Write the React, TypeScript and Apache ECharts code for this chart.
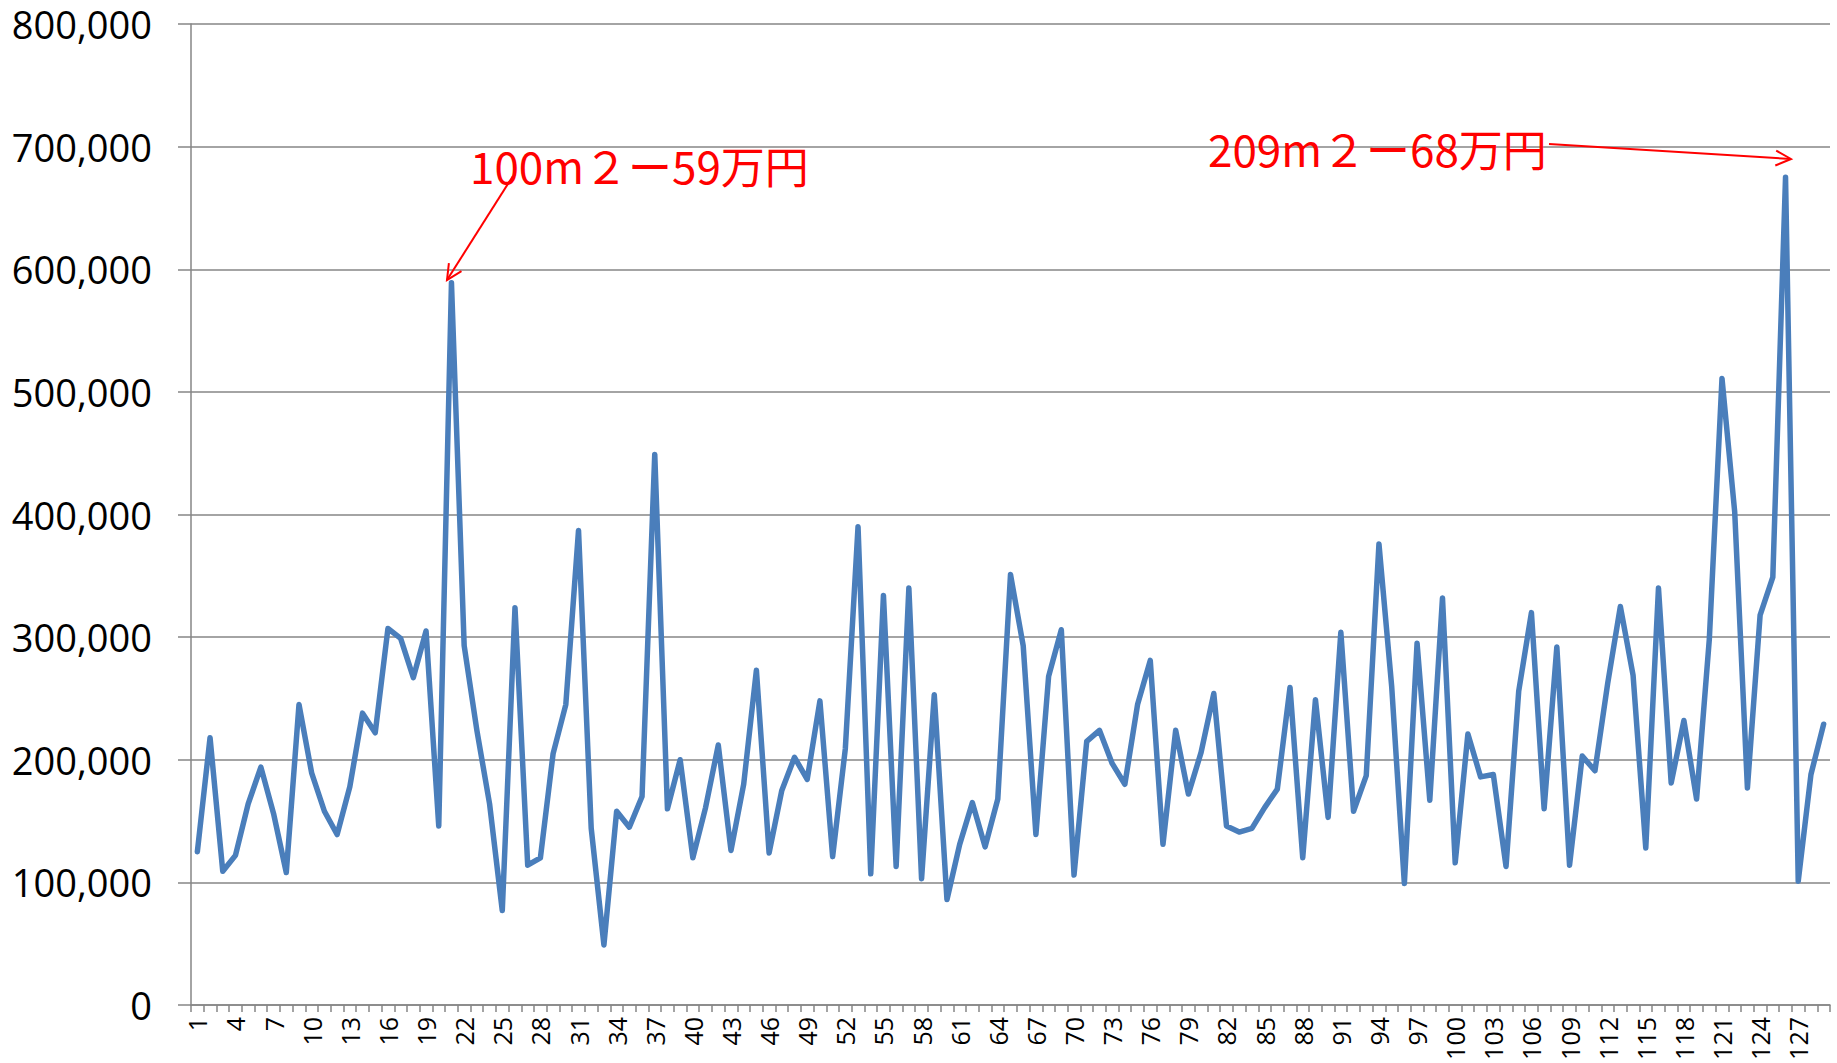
import React, { useEffect, useRef } from "react";
import * as echarts from "echarts";

const categories: string[] = Array.from({ length: 129 }, (_, i) => String(i + 1));

const prices: number[] = [
  125000, 218000, 109000, 122000, 164000, 194000, 156000, 108000, 245000, 189000,
  158000, 139000, 178000, 238000, 222000, 307000, 299000, 267000, 305000, 146000,
  589000, 293000, 224000, 164000, 77000, 324000, 114000, 120000, 205000, 245000,
  387000, 144000, 49000, 158000, 145000, 170000, 449000, 160000, 200000, 120000,
  161000, 212000, 126000, 180000, 273000, 124000, 175000, 202000, 184000, 248000,
  121000, 209000, 390000, 107000, 334000, 113000, 340000, 103000, 253000, 86000,
  131000, 165000, 129000, 168000, 351000, 293000, 139000, 268000, 306000, 106000,
  215000, 224000, 197000, 180000, 245000, 281000, 131000, 224000, 172000, 206000,
  254000, 146000, 141000, 144000, 161000, 176000, 259000, 120000, 249000, 153000,
  304000, 158000, 187000, 376000, 260000, 99000, 295000, 167000, 332000, 116000,
  221000, 186000, 188000, 113000, 256000, 320000, 160000, 292000, 114000, 203000,
  191000, 262000, 325000, 269000, 128000, 340000, 181000, 232000, 168000, 298000,
  511000, 402000, 177000, 318000, 349000, 675000, 101000, 188000, 229000,
];

const annotationTexts: string[] = ["100m２ー59万円", "209m２ー68万円"];

function arrow(x1: number, y1: number, x2: number, y2: number, color: string) {
  const dx = x2 - x1;
  const dy = y2 - y1;
  const len = Math.sqrt(dx * dx + dy * dy);
  const ux = dx / len;
  const uy = dy / len;
  const hl = 17;
  const ang = (26 * Math.PI) / 180;
  const c = Math.cos(ang);
  const s = Math.sin(ang);
  const bx = -ux;
  const by = -uy;
  const p1 = [x2 + hl * (bx * c - by * s), y2 + hl * (bx * s + by * c)];
  const p2 = [x2 + hl * (bx * c + by * s), y2 + hl * (-bx * s + by * c)];
  return [
    {
      type: "line",
      shape: { x1, y1, x2, y2 },
      style: { stroke: color, lineWidth: 2 },
      z: 100,
    },
    {
      type: "polyline",
      shape: { points: [p1, [x2, y2], p2] },
      style: { stroke: color, lineWidth: 2, fill: null },
      z: 100,
    },
  ];
}

export default function App() {
  const ref = useRef<HTMLDivElement>(null);

  useEffect(() => {
    if (!ref.current) return;
    const chart = echarts.init(ref.current, undefined, { renderer: "svg" });
    const gray = "#868686";
    const option: any = {
      animation: false,
      backgroundColor: "#ffffff",
      grid: { left: 191, right: 7, top: 24, bottom: 58, containLabel: false },
      xAxis: {
        type: "category",
        data: categories,
        boundaryGap: true,
        axisLine: { show: true, lineStyle: { color: gray, width: 1.5 } },
        axisTick: { show: true, interval: 0, length: 7, lineStyle: { color: gray, width: 1.5 } },
        axisLabel: {
          interval: 2,
          rotate: 90,
          margin: 12,
          color: "#000000",
          fontFamily: "Open Sans",
          fontSize: 25,
        },
        splitLine: { show: false },
      },
      yAxis: {
        type: "value",
        min: 0,
        max: 800000,
        interval: 100000,
        axisLine: { show: true, lineStyle: { color: gray, width: 1.5 } },
        axisTick: { show: true, inside: false, length: 13, lineStyle: { color: gray, width: 1.5 } },
        axisLabel: {
          margin: 39,
          color: "#000000",
          fontFamily: "Open Sans",
          fontSize: 38,
          lineHeight: 36,
          formatter: (v: number) => v.toLocaleString("en-US"),
        },
        splitLine: { show: true, lineStyle: { color: gray, width: 1.5 } },
      },
      series: [
        {
          type: "line",
          data: prices,
          symbol: "none",
          lineStyle: { color: "#4A7EBB", width: 5.5, cap: "round", join: "round" },
          z: 5,
        },
      ],
      graphic: [
        {
          type: "text",
          left: 470,
          top: 143,
          style: {
            text: annotationTexts[0],
            fill: "#FF0000",
            font: '44px "Noto Sans CJK JP"',
          },
          z: 100,
        },
        {
          type: "text",
          left: 1208,
          top: 126,
          style: {
            text: annotationTexts[1],
            fill: "#FF0000",
            font: '44px "Noto Sans CJK JP"',
          },
          z: 100,
        },
        ...arrow(513, 176, 447, 280, "#FF0000"),
        ...arrow(1549, 144, 1791, 159, "#FF0000"),
      ],
    };
    chart.setOption(option);
    return () => chart.dispose();
  }, []);

  return (
    <div
      ref={ref}
      style={{ position: "absolute", left: 0, top: 0, width: 1837, height: 1063 }}
    />
  );
}
